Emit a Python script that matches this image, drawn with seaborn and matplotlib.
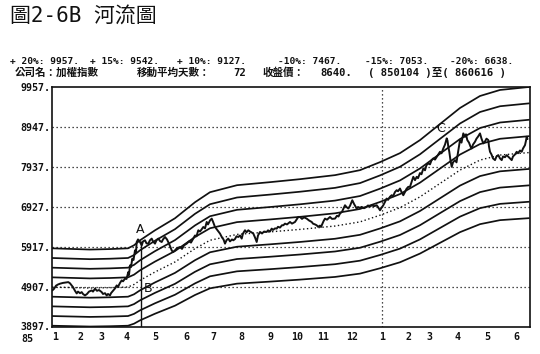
import pandas as pd
import seaborn as sns
import matplotlib.pyplot as plt

# trading-day position (0 = left edge of frame) and index level
price_day = [0.3, 2, 4, 6, 8, 11, 14, 16.3, 18, 21, 23, 24.7, 26, 28, 29.7, 31, 33, 35, 37, 39.7,
             41, 43, 45, 47, 49.7, 51, 53, 54.7, 56, 58, 59, 61.3, 63, 64.7, 66, 68, 69.7, 71, 73, 74.5,
             76.3, 77, 78, 79, 80.3, 81.5, 83, 84, 84.7, 86, 88, 89.7, 91, 93, 94.5, 96.3, 98, 99.7, 101, 103,
             104.5, 106.3, 108, 109.7, 111, 113, 115, 117, 119.7, 121, 123, 125, 128, 130, 132, 134.7, 137, 139, 141.3, 143,
             144.5, 146.3, 148, 149.5, 151.3, 153, 154.7, 156, 158, 159.7, 161, 163, 165, 166.5, 168, 170, 171.5, 173, 174.5, 176.3,
             178, 180, 181.3, 183, 184.5, 186.3, 188, 189.7, 191, 193, 194.5, 196.3, 198, 199.5, 201.3, 203, 204.7, 206, 208, 210,
             212, 214.7, 216, 218, 219.7, 221, 223, 224.7, 226, 228, 230, 231.3, 233, 235, 238, 240, 243, 244.5, 246.3, 248,
             250, 252, 254.7, 257, 259.7, 261, 263, 264.7, 266, 268, 269, 270.5, 271.5, 273, 275, 278, 280, 283, 285, 286.5,
             288, 290, 291.5, 293, 294.5, 296.3, 298, 300.3, 302, 304.7, 306, 308, 309.7, 312, 314.7, 316, 318, 319.7, 322, 324.7,
             326, 328, 329.5, 331.3, 333, 334.7, 336, 338, 339.7, 341, 343, 344.7, 346, 348, 349.5, 351.3, 353, 354.5, 356.3, 358,
             359.5, 361.3, 363, 364.7, 366, 368, 369.5, 371.3, 373, 374.5, 376.3, 378, 379.5, 381.3, 383, 385, 386.5, 388, 389.5, 391.3,
             393, 394.7, 395.5, 396.3, 397.3, 398.5, 399.7, 401, 403, 404.5, 406, 408, 409.5, 411.3, 413, 414, 415.3, 417, 418.5, 419.7,
             421, 423, 424.5, 426, 428, 429.5, 431.3, 433, 434.5, 436.3, 437, 438, 439.5, 441, 443, 444.5, 446.3, 448, 449.7, 451,
             453, 454.7, 456, 458, 459.7, 461, 463, 464.7, 466, 468, 469.7, 471, 473, 474, 474.7, 475.5]
price_val = [4810, 4850, 4930, 4960, 4980, 5000, 5010, 5020, 4990, 4893, 4800, 4734, 4780, 4740, 4767, 4720, 4683, 4720, 4780, 4810,
             4780, 4853, 4800, 4820, 4767, 4720, 4740, 4683, 4720, 4683, 4740, 4810, 4860, 4937, 4900, 5000, 5064, 5040, 5107, 5100,
             5274, 5200, 5444, 5400, 5614, 5580, 5824, 5780, 6035, 6100, 6035, 5951, 6050, 6078, 6000, 5994, 6080, 6121, 6050, 5994,
             6080, 6121, 6060, 6035, 6100, 6162, 6100, 5994, 5824, 5780, 5824, 5880, 5908, 5860, 5950, 5994, 6050, 6020, 6121, 6200,
             6180, 6332, 6300, 6350, 6415, 6380, 6542, 6480, 6580, 6627, 6550, 6415, 6350, 6300, 6248, 6150, 6100, 5994, 6080, 6121,
             6050, 6100, 6078, 6110, 6180, 6162, 6200, 6121, 6250, 6332, 6280, 6332, 6300, 6280, 6248, 6150, 6035, 6200, 6289, 6250,
             6300, 6289, 6330, 6300, 6374, 6340, 6380, 6374, 6420, 6400, 6460, 6458, 6500, 6480, 6542, 6500, 6542, 6600, 6669, 6669,
             6620, 6660, 6627, 6580, 6542, 6500, 6480, 6458, 6420, 6450, 6415, 6500, 6560, 6627, 6600, 6669, 6620, 6627, 6700, 6680,
             6755, 6800, 6880, 6965, 6920, 6881, 6950, 7092, 7000, 6881, 6920, 6900, 6923, 6890, 6923, 6960, 6930, 6965, 6940, 6965,
             6920, 6838, 6900, 6965, 7050, 7135, 7100, 7180, 7219, 7190, 7300, 7346, 7320, 7388, 7300, 7219, 7300, 7380, 7431, 7431,
             7550, 7685, 7600, 7685, 7650, 7780, 7750, 7896, 7850, 7980, 8023, 8000, 8100, 8150, 8120, 8200, 8260, 8318, 8280, 8403,
             8500, 8657, 8600, 8450, 8318, 8100, 7937, 8050, 8107, 8050, 8300, 8614, 8550, 8783, 8700, 8760, 8614, 8550, 8450, 8403,
             8500, 8572, 8650, 8700, 8783, 8650, 8530, 8580, 8650, 8614, 8450, 8318, 8250, 8150, 8107, 8200, 8234, 8150, 8107, 8200,
             8180, 8234, 8200, 8150, 8107, 8200, 8250, 8318, 8280, 8350, 8318, 8400, 8487, 8600, 8698, 8640]

# 72-day moving average (centre of the river)
ma_day = [0, 38, 58, 76, 82, 88, 103, 123, 143, 158, 185, 218, 248, 283, 308, 328, 348, 368, 388, 408, 428, 448, 477]
ma_val = [4896, 4870, 4880, 4896, 4960, 5065, 5276, 5530, 5868, 6079, 6227, 6291, 6354, 6439, 6544, 6713, 6903, 7178,
          7517, 7855, 8108, 8235, 8298]

band_pct = [-20, -15, -10, -5, 5, 10, 15, 20]

ytick_vals = [3897, 4907, 5917, 6927, 7937, 8947, 9957]
ytick_labels = ['3897.', '4907.', '5917.', '6927.', '7937.', '8947.', '9957.']
month_day = [3, 28, 49, 75, 103, 134, 161, 189, 219, 245, 271, 300, 330, 357, 377, 406, 435, 464]
month_labels = ['1', '2', '3', '4', '5', '6', '7', '8', '9', '10', '11', '12', '1', '2', '3', '4', '5', '6']

header_vals = ['+ 20%: 9957.', '+ 15%: 9542.', '+ 10%: 9127.', '-10%: 7467.', '-15%: 7053.', '-20%: 6638.']

a_day, a_top = 89, 6050

sns.set_style('white')
plt.rcParams['font.family'] = ['DejaVu Sans Mono', 'Noto Sans CJK TC']
ink = '#111111'

fig = plt.figure(figsize=(5.4, 3.54), dpi=100)
ax = fig.add_axes([52 / 540, 27.5 / 354, 478 / 540, 239.5 / 354])

# bands around the moving average
rows = []
for p in band_pct:
    for d, m in zip(ma_day, ma_val):
        rows.append({'day': d, 'value': m * (1 + p / 100), 'band': p})
bands = pd.DataFrame(rows)
sns.lineplot(data=bands, x='day', y='value', units='band', estimator=None,
             color=ink, lw=1.25, ax=ax, legend=False)
sns.lineplot(x=ma_day, y=ma_val, color=ink, lw=1.0, ls=(0, (1, 1.8)), ax=ax)

# index
sns.lineplot(x=price_day, y=price_val, color=ink, lw=1.4, ax=ax, estimator=None, sort=False)

ax.set_xlim(0, 478)
ax.set_ylim(ytick_vals[0], ytick_vals[-1])

for v in ytick_vals[1:-1]:
    ax.axhline(v, color=ink, lw=0.9, ls=(0, (1, 2.2)), zorder=0)
ax.axvline(month_day[12], color=ink, lw=0.9, ls=(0, (1, 2.2)), zorder=0)
ax.vlines(a_day, ytick_vals[0], a_top, color=ink, lw=1.0)

ax.text(a_day - 1, 6345, 'A', fontsize=9, family='DejaVu Sans', ha='center', va='center', color=ink)
ax.text(96.5, 4853, 'B', fontsize=9, family='DejaVu Sans', ha='center', va='center', color=ink)
ax.text(389, 8895, 'C', fontsize=9, family='DejaVu Sans', ha='center', va='center', color=ink)

ax.set_yticks(ytick_vals)
ax.set_yticklabels(ytick_labels, fontsize=7.2, fontweight='bold', color=ink)
ax.set_xticks(month_day)
ax.set_xticklabels(month_labels, fontsize=7.2, fontweight='bold', color=ink)
ax.tick_params(axis='y', length=0, pad=1)
ax.tick_params(axis='x', direction='in', length=5, width=1, color=ink, pad=4)
ax.set_xlabel('')
ax.set_ylabel('')
for s in ax.spines.values():
    s.set_color(ink)
    s.set_linewidth(1.2)
    s.set_visible(True)

fig.text(27 / 540, 1 - 339 / 354, '85', fontsize=7.2, fontweight='bold', ha='center', va='center', color=ink)

# titles and header
fig.text(10 / 540, 1 - 17 / 354, '圖2-6B 河流圖', fontsize=15, ha='left', va='center', color=ink)
for x0, s in zip([10, 90, 177, 278, 365, 450], header_vals):
    fig.text(x0 / 540, 1 - 61 / 354, s, fontsize=6.8, fontweight='bold', ha='left', va='center', color=ink)
line2 = [(15, '公司名：加權指數'), (137, '移動平均天數：'), (233, '72'), (263, '收盤價：'),
         (320, '8640.'), (368, '( 850104 )至( 860616 )')]
for x0, s in line2:
    fig.text(x0 / 540, 1 - 73 / 354, s, fontsize=7.6, fontweight='bold', ha='left', va='center', color=ink)

fig.savefig('out.png', dpi=100)
